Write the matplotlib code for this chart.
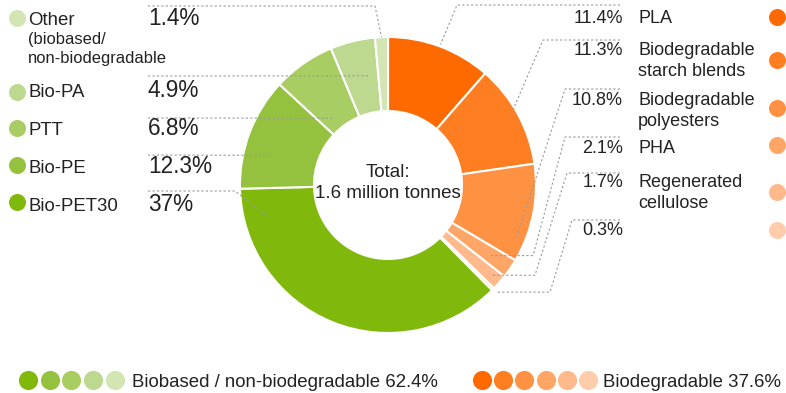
import matplotlib
matplotlib.use("Agg")
import matplotlib.pyplot as plt
import numpy as np

plt.rcParams['font.family'] = ['Liberation Sans', 'DejaVu Sans']

# slices, clockwise from the top
orange_names = ['PLA', 'Biodegradable\nstarch blends', 'Biodegradable\npolyesters',
                'PHA', 'Regenerated\ncellulose', '']
orange_values = [11.4, 11.3, 10.8, 2.1, 1.7, 0.3]
orange_colors = ['#ff6a00', '#ff7e22', '#ff9142', '#ffa566', '#ffb98a', '#ffcdab']

green_names = ['Bio-PET30', 'Bio-PE', 'PTT', 'Bio-PA', 'Other']
green_values = [37, 12.3, 6.8, 4.9, 1.4]
green_colors = ['#80b80c', '#94c23f', '#a7cd63', '#bdd98f', '#d3e5b3']
other_note = ['(biobased/', 'non-biodegradable']

green_total = 62.4
orange_total = 37.6
total_label = ['Total:', '1.6 million tonnes']

W, H = 786, 393
fig = plt.figure(figsize=(W / 100, H / 100), dpi=100)
ax = fig.add_axes([0, 0, 1, 1])


def Y(py):
    return H - py


values = orange_values + green_values
colors = orange_colors + green_colors
cx, cy, R = 388, Y(185), 148
wedges, _ = ax.pie(values, colors=colors, startangle=90, counterclock=False,
                   radius=R, center=(cx, cy),
                   wedgeprops=dict(width=74, edgecolor='white', linewidth=1.5))
ax.set_xlim(0, W)
ax.set_ylim(0, H)
ax.set_aspect('equal')
ax.axis('off')

txt = '#222222'
for line, by in zip(total_label, [177, 198]):
    ax.text(cx, Y(by), line, ha='center', va='baseline', fontsize=13.5, color=txt)

lead = dict(color='#9a9a9a', lw=0.8, ls=(0, (2, 2)))


def anchor(w, f, r):
    a = np.deg2rad(w.theta1 + f * (w.theta2 - w.theta1))
    return cx + r * np.cos(a), cy + r * np.sin(a)


# right side (orange)
r_base = [23, 55, 105, 153, 187, 235]
r_line_y = [5, 40, 89, 137, 173, 220]
r_elbow1 = [457, 543, 565, 565, 567, 572]
r_elbow2 = [None, None, None, 533, 535, 550]
r_anchor = [(0.5, 150), (0.5, 138), (0.2, 139), (0.5, 125), (0.5, 137), (0.5, 152)]
r_dot_y = [17, 60, 108, 145, 192, 230]
for i, w in enumerate(wedges[:6]):
    ax.text(623, Y(r_base[i]), f'{orange_values[i]}%', ha='right', va='baseline',
            fontsize=13, color=txt)
    for k, part in enumerate(orange_names[i].split('\n')):
        if part:
            ax.text(638, Y(r_base[i] + 21 * k), part, ha='left', va='baseline',
                    fontsize=13, color=txt)
    ax.scatter(777, Y(r_dot_y[i]), s=150, color=orange_colors[i], lw=0)
    axp, ayp = anchor(w, *r_anchor[i])
    xs = [620, r_elbow1[i]]
    ys = [Y(r_line_y[i]), Y(r_line_y[i])]
    if r_elbow2[i] is not None:
        xs.append(r_elbow2[i])
        ys.append(ayp)
    xs.append(axp)
    ys.append(ayp)
    ax.plot(xs, ys, **lead)

# left side (green), drawn top to bottom
l_order = [4, 3, 2, 1, 0]
l_dot_y = [18, 92, 128, 165, 202]
l_base = [25, 97, 135, 173, 211]
l_line_y = [6, 76, 118, 155, 191]
l_elbow = [375, None, None, None, 235]
l_anchor = [(0.5, 148), (0.3, 111), (0.7, 87), (0.65, 122), (0.1, 125)]
for k, gi in enumerate(l_order):
    w = wedges[6 + gi]
    ax.scatter(17, Y(l_dot_y[k]), s=150, color=green_colors[gi], lw=0)
    ax.text(28, Y(l_base[k]), green_names[gi], ha='left', va='baseline',
            fontsize=13.4, color=txt)
    if gi == 4:
        for line, by in zip(other_note, [44, 63]):
            ax.text(28, Y(by), line, ha='left', va='baseline', fontsize=11.9, color=txt)
    v = green_values[gi]
    ax.text(148, Y(l_base[k]), f'{v:g}%', ha='left', va='baseline',
            fontsize=16.3, color=txt)
    axp, ayp = anchor(w, *l_anchor[k])
    xs = [148]
    ys = [Y(l_line_y[k])]
    if l_elbow[k] is not None:
        xs.append(l_elbow[k])
        ys.append(Y(l_line_y[k]))
    xs.append(axp)
    ys.append(ayp)
    ax.plot(xs, ys, **lead)

# bottom legend
for j, c in enumerate(green_colors):
    ax.scatter(28 + j * 21.7, Y(380), s=190, color=c, lw=0)
ax.text(132, Y(387), f'Biobased / non-biodegradable {green_total}%', ha='left',
        va='baseline', fontsize=13.4, color=txt)
for j, c in enumerate(orange_colors):
    ax.scatter(482 + j * 21.2, Y(380), s=190, color=c, lw=0)
ax.text(603, Y(387), f'Biodegradable {orange_total}%', ha='left', va='baseline',
        fontsize=13.4, color=txt)

fig.savefig('out.png', dpi=100)
